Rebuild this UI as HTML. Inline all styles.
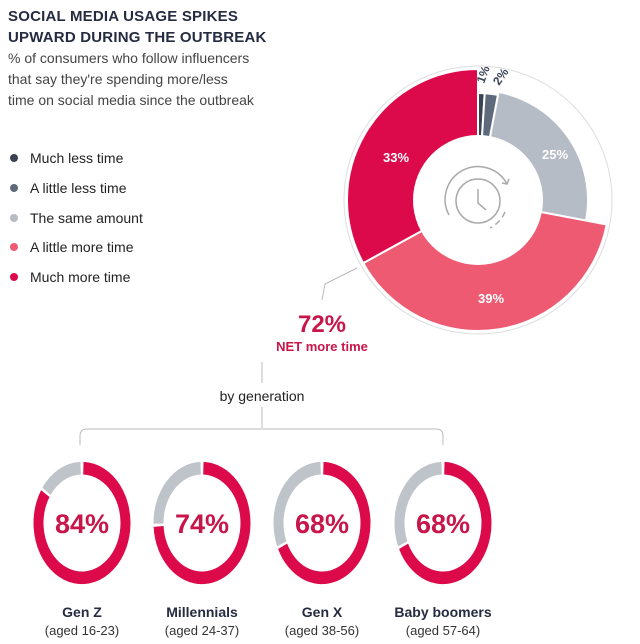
<!DOCTYPE html><html><head><meta charset="utf-8"><style>
body{margin:0;width:640px;height:644px;background:#fff;font-family:"Liberation Sans",sans-serif;overflow:hidden;position:relative}
.t{position:absolute;left:8px;top:6px;font-weight:bold;font-size:15px;line-height:21px;color:#252b40;letter-spacing:.2px}
.s{position:absolute;left:8px;top:48px;font-size:14px;line-height:21px;color:#444}
.lg{position:absolute;left:10px;font-size:14px;color:#222}
.lg i{display:inline-block;width:8px;height:8px;border-radius:50%;margin-right:12px;vertical-align:1px}
</style></head><body>
<div class="t">SOCIAL MEDIA USAGE SPIKES<br>UPWARD DURING THE OUTBREAK</div>
<div class="s">% of consumers who follow influencers<br>that say they're spending more/less<br>time on social media since the outbreak</div>
<div class="lg" style="top:150px"><i style="background:#394354"></i>Much less time</div>
<div class="lg" style="top:180px"><i style="background:#5e6a7c"></i>A little less time</div>
<div class="lg" style="top:210px"><i style="background:#b6bcc5"></i>The same amount</div>
<div class="lg" style="top:239px"><i style="background:#ee5a72"></i>A little more time</div>
<div class="lg" style="top:269px"><i style="background:#dc0a4a"></i>Much more time</div>
<svg width="640" height="644" style="position:absolute;left:0;top:0" font-family="Liberation Sans, sans-serif">
<g id="pie"></g>
<g fill="none" stroke="#bbb" stroke-width="1">
<path d="M357 268 L325 284 L322 300"/>
<line x1="262" y1="362" x2="262" y2="383"/>
<line x1="262" y1="407" x2="262" y2="428"/>
<path d="M80 445 V436 Q80 429 87 429 H436 Q443 429 443 436 V445"/>
</g>
<g id="rings" transform="translate(0,523) scale(1,1.26) translate(0,-523)"></g>
<circle cx="478" cy="200" r="65" fill="#fff"/>
<g fill="none" stroke="#aaa" stroke-width="1.5">
<circle cx="478" cy="201" r="22"/>
<path d="M478 189 V203 L486 210"/>
<path d="M449 215 A32 32 0 1 1 507 184"/><path d="M502 183 L507 184 L509 179"/>
<path d="M505 212 A32 32 0 0 1 490 228" stroke-dasharray="6 4"/>
</g>
<g fill="#fff" font-weight="bold" font-size="13" text-anchor="middle">
<text x="396" y="162">33%</text><text x="555" y="159">25%</text><text x="491" y="303">39%</text>
</g>
<g fill="#3a4456" font-weight="bold" font-size="12"><text x="484" y="84" transform="rotate(-70 484 84)">1%</text><text x="499" y="86" transform="rotate(-55 499 86)">2%</text></g>
<text x="322" y="332" text-anchor="middle" fill="#c8154a" font-weight="bold" font-size="24">72%</text>
<text x="322" y="351" text-anchor="middle" fill="#c8154a" font-weight="bold" font-size="13">NET more time</text>
<text x="262" y="401" text-anchor="middle" fill="#222" font-size="14">by generation</text>
<g fill="#c8154a" font-weight="bold" font-size="27" text-anchor="middle">
<text x="82" y="533">84%</text><text x="202" y="533">74%</text><text x="322" y="533">68%</text><text x="443" y="533">68%</text></g>
<g fill="#252b40" font-weight="bold" font-size="14" text-anchor="middle">
<text x="82" y="617">Gen Z</text><text x="202" y="617">Millennials</text><text x="322" y="617">Gen X</text><text x="443" y="617">Baby boomers</text></g>
<g fill="#333" font-size="13" text-anchor="middle">
<text x="82" y="635">(aged 16-23)</text><text x="202" y="635">(aged 24-37)</text><text x="322" y="635">(aged 38-56)</text><text x="443" y="635">(aged 57-64)</text></g>
</svg>
<script>
function arc(cx,cy,r0,r1,a0,a1){const p=(r,a)=>[cx+r*Math.sin(a),cy-r*Math.cos(a)];const L=(a1-a0)>Math.PI?1:0;
const A=p(r1,a0),B=p(r1,a1),C=p(r0,a1),D=p(r0,a0);
return `M${A} A${r1} ${r1} 0 ${L} 1 ${B} L${C} A${r0} ${r0} 0 ${L} 0 ${D}Z`;}
const T=Math.PI*2;let s='';
s+=`<circle cx="478" cy="200" r="134" fill="none" stroke="#ddd" stroke-width="1"/>`;
const segs=[[0,1,107,'#394354'],[1,3,107,'#5e6a7c'],[3,28,110,'#b6bcc5'],[28,67,131,'#ee5a72'],[67,100,131,'#dc0a4a']];
segs.forEach(g=>{s+=`<path d="${arc(478,200,62,g[2],g[0]/100*T,g[1]/100*T)}" fill="${g[3]}" stroke="#fff" stroke-width="2"/>`;});
document.getElementById('pie').innerHTML=s;
let r='';[[82,84],[202,74],[322,68],[443,68]].forEach(([x,p])=>{
r+=`<path d="${arc(x,523,38.5,48.5,0.005*T,p/100*T)}" fill="#dc0a4a"/>`;
r+=`<path d="${arc(x,523,38.5,48.5,(p/100+0.008)*T,0.995*T)}" fill="#bfc3ca"/>`;});
document.getElementById('rings').innerHTML=r;
</script>
</body></html>
